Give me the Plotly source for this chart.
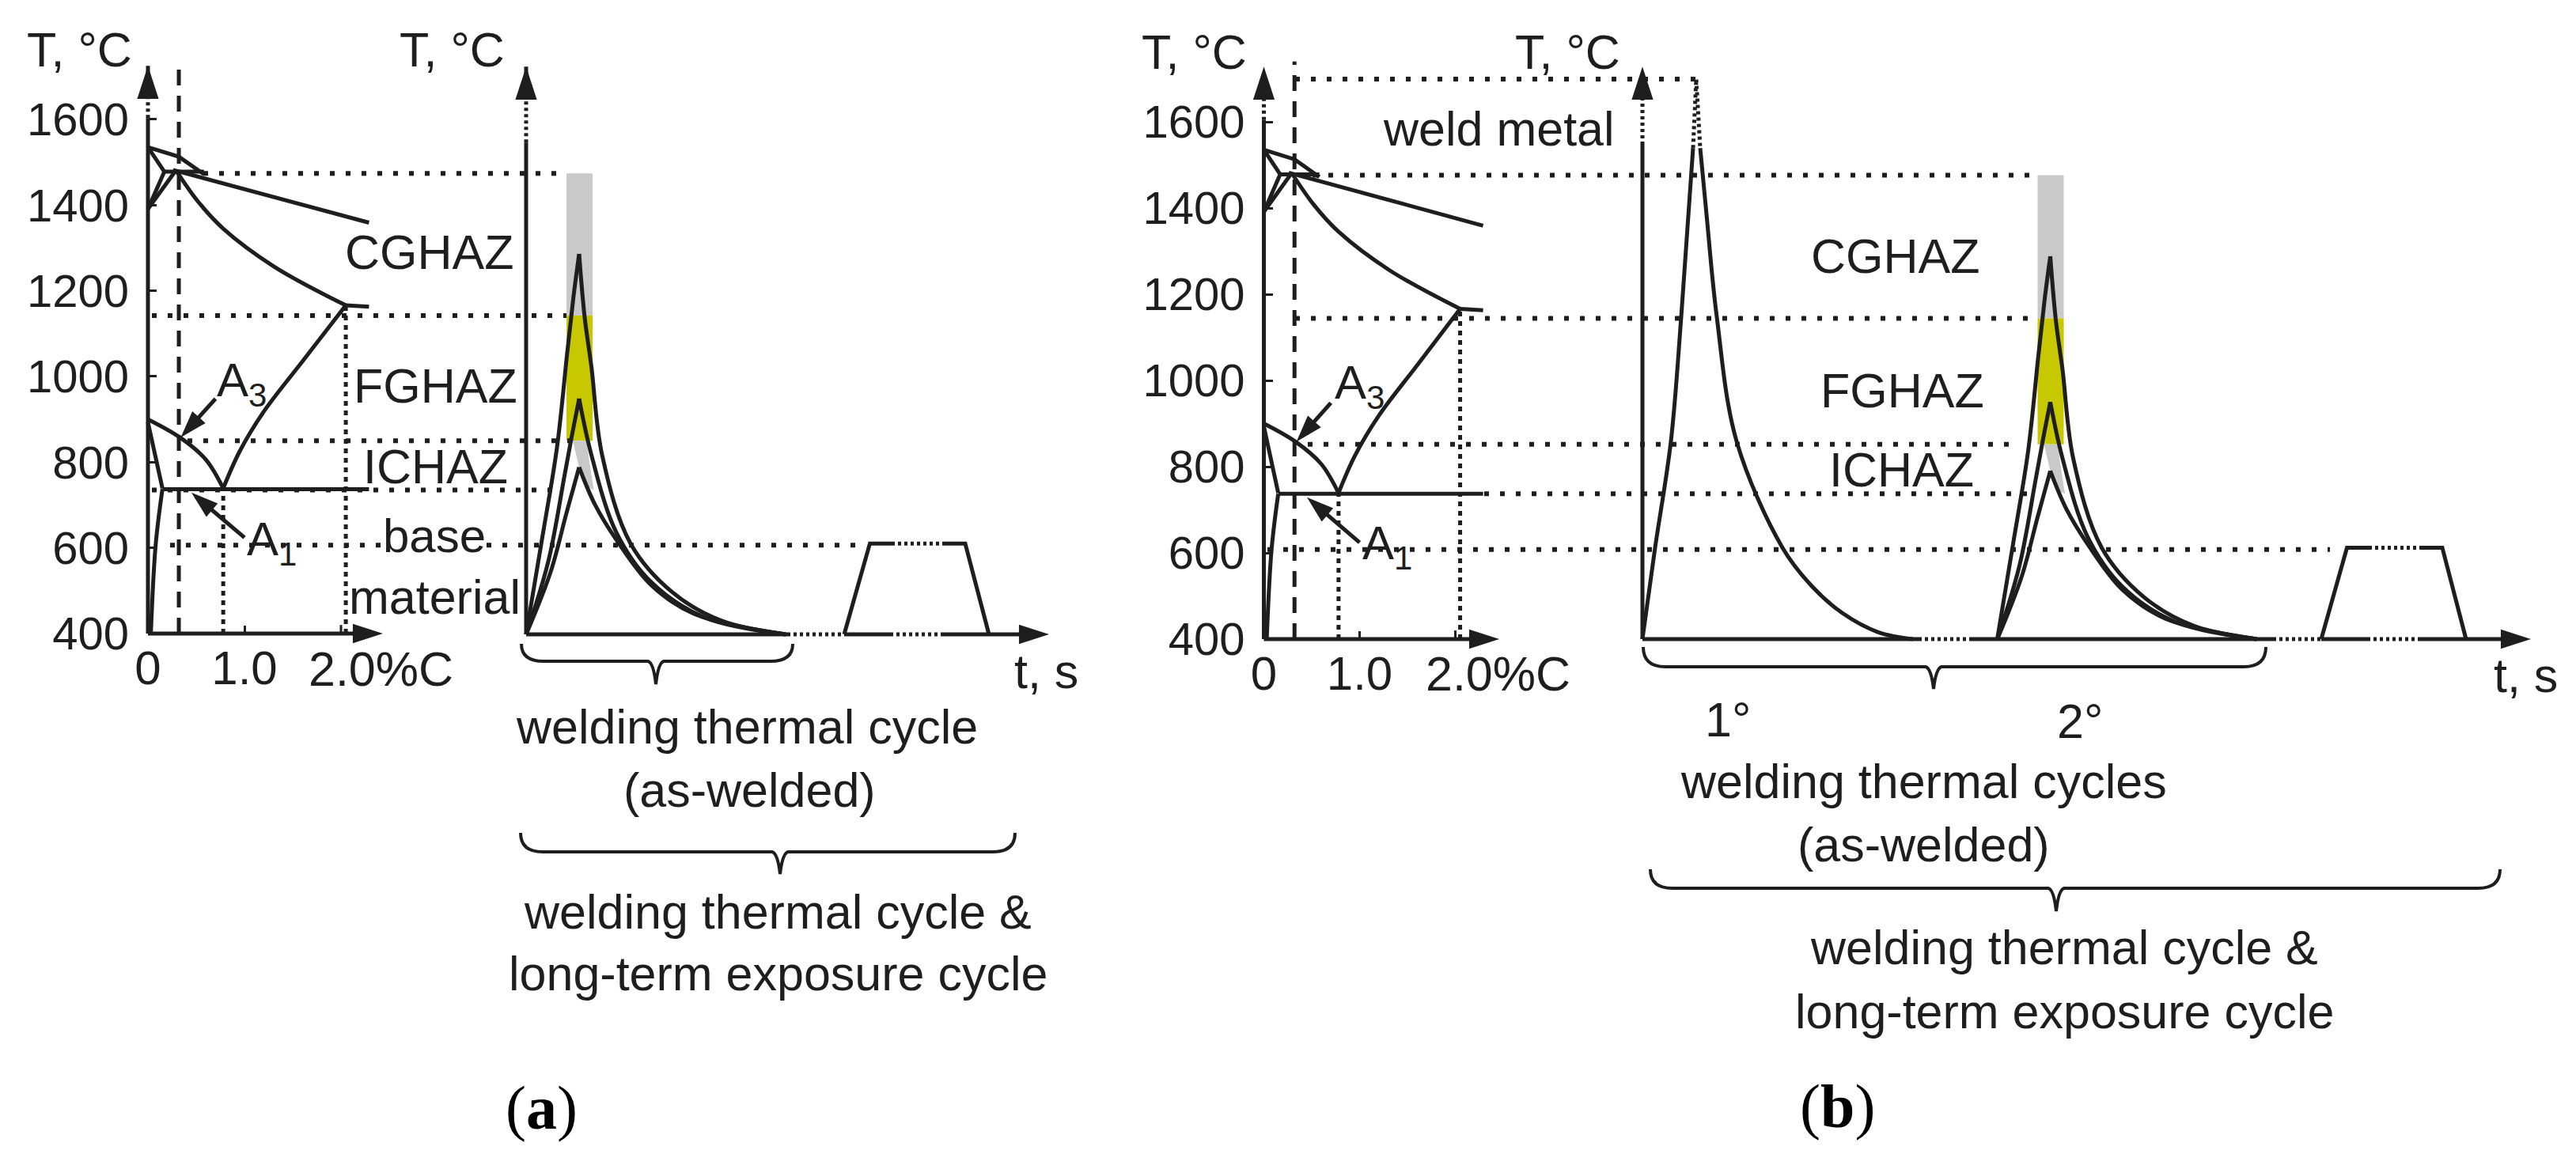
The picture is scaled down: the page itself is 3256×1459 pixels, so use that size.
import plotly.graph_objs as go

W, H = 3256, 1459
INK = '#1e1e1e'
SANS = 'Liberation Sans'
SERIF = 'Liberation Serif'

# Fe-C diagram, wt% C and deg C
LIQ_C, LIQ_T = [0, 0.32, 0.58], [1535, 1513, 1472]
LIQ2_C, LIQ2_T = [0.26, 2.29], [1482, 1359]
PERI_C, PERI_T = [0.17, 0.58], [1478, 1478]
SOL_C, SOL_T = [0.30, 0.52, 0.78, 1.31, 2.05], [1478, 1408, 1345, 1256, 1166]
DELTA1_C, DELTA1_T = [0, 0.17], [1535, 1478]
DELTA2_C, DELTA2_T = [0, 0.17], [1391, 1478]
DELTA3_C, DELTA3_T = [0, 0.28], [1391, 1478]
EUT_C, EUT_T = [2.05, 2.29], [1166, 1163]
ACM_C, ACM_T = [2.05, 1.6, 1.2, 0.95, 0.78], [1166, 1035, 918, 825, 739]
A3_C, A3_T = [0, 0.33, 0.60, 0.78], [900, 858, 806, 739]
A1_C, A1_T = [0.15, 2.29], [737, 737]
FER_C, FER_T = [0, 0.15], [893, 739]
LOW_C, LOW_T = [0.03, 0.08, 0.15], [400, 607, 737]
STEEL_C = 0.32
STEEL_TOP = 1740
EUTECTOID_C = 0.78
EUTECTIC_C = 2.05
# pointers from the A3 and A1 labels
A3_PTR_C, A3_PTR_T = [0.70, 0.34], [948, 858]
A1_PTR_C, A1_PTR_T = [1.00, 0.45], [624, 729]

T_TICKS = [400, 600, 800, 1000, 1200, 1400, 1600]
C_TICKS = [0, 1]
C_LABELS = ['0', '1.0']
C_LAST_TICK = 2

# HAZ thermal cycle family, t in seconds from start of the cycle
RISE1_t, RISE1_T = [0, 2.0, 3.9, 5.2, 6.0, 6.7], [400, 621, 836, 1058, 1190, 1288]
RISE2_t, RISE2_T = [0, 2.8, 4.85, 5.85, 6.7], [400, 570, 770, 870, 950]
RISE3_t, RISE3_T = [0, 3.05, 5.1, 6.7], [400, 543, 683, 790]
DECAY1_t = [6.7, 7.4, 8.25, 9.6, 13.2, 18.5, 24.8, 32.8]
DECAY1_T = [1288, 1140, 1025, 819, 612, 498, 431, 400]
DECAY2_t = [6.7, 8.25, 11.4, 15.8, 22.5, 32.8]
DECAY2_T = [950, 819, 638, 522, 440, 400]
DECAY3_t = [6.7, 8.7, 11.4, 15.8, 21.2, 32.8]
DECAY3_T = [790, 703, 621, 515, 448, 400]

# weld metal cycle of panel b
WELD_RISE_t = [0, 1.6, 3.6, 4.9, 6.4]
WELD_RISE_T = [400, 612, 859, 1147, 1539]
WELD_DECAY_t = [7.3, 8.1, 9.4, 11.9, 17.7, 21.5, 25.3, 29.8, 34.2]
WELD_DECAY_T = [1539, 1385, 1147, 859, 612, 521, 460, 416, 400]
WELD_PEAK_t, WELD_PEAK_T = 6.8, 1699

# zones shown on the cycle family
BAND_t = [5.1, 8.4]
BAND_CG_T = [1476, 1144]
BAND_FG_T = [1144, 852]
ICZONE_t = [5.9, 7.6, 8.55, 7.6, 6.7]
ICZONE_T = [852, 852, 737, 745, 790]

# long-term exposure trapezoid, relative to the start of its ramp
EXPO_t = [0, 3.25, 6.0]
EXPO2_t = [12.6, 15.3, 18.3]
EXPO_T = 612

# time axis pieces, (solid, dotted) runs
A_SOLID = [[0, 33], [40.2, 46], [52.6, 66.1]]
A_DOTTED = [[33, 40.2], [46, 52.6]]
A_RAMP = 40.2
B_SOLID = [[0, 34.9], [41.6, 79.7], [85.8, 91.6], [98.3, 112.3]]
B_DOTTED = [[34.9, 41.6], [79.7, 85.8], [91.6, 98.3]]
B_RAMP = 85.8
B_CYCLE2 = 44.85

# dotted guide levels, T then t start and end
A_LEVELS = [1476, 1144, 852, 737, 608]
A_LEVEL_START = [-40.8, -47.3, -42.8, -47.3, -45.0]
A_LEVEL_END = [5.1, 5.1, 5.6, 3.3, 42.4]
B_LEVELS = [1699, 1476, 1144, 852, 737, 608]
B_LEVEL_START = [-43.9, -41.7, -43.9, -42.3, -20.0, -47.4]
B_LEVEL_END = [6.8, 50.1, 50.1, 46.9, 49.7, 86.9]

# axis extents: solid top of each T axis, dotted top, arrow tip, C axis arrow tip
T_SOLID_TOP = [1603, 1548, 1604, 1547]
T_DOTTED_TOP = 1660
T_ARROW_TIP = [1725, 1725, 1728, 1728]
C_ARROW_TIP = [2.434, 2.459]


def hfrac(px):
    return px / W


def vfrac(py):
    return 1 - py / H


def line(fig, x, y, ax, width=5, dash='solid', smooth=False, head=0):
    trace = dict(x=x, y=y, mode='lines', xaxis='x' + ax, yaxis='y' + ax,
                 line=dict(color=INK, width=width, dash=dash,
                           shape='spline' if smooth else 'linear'),
                 hoverinfo='skip', showlegend=False)
    if head:
        trace['mode'] = 'lines+markers'
        trace['marker'] = dict(symbol='arrow', size=[0] * (len(x) - 1) + [head], color=INK,
                               opacity=1, angleref='previous', line=dict(width=0))
    fig.add_trace(go.Scatter(**trace))


def fill(fig, x, y, ax, color):
    fig.add_trace(go.Scatter(
        x=x, y=y, mode='lines', xaxis='x' + ax, yaxis='y' + ax, fill='toself',
        fillcolor=color, line=dict(width=0), hoverinfo='skip', showlegend=False))


def draw_phase(fig, ax):
    for cx, ty in [(LIQ_C, LIQ_T), (LIQ2_C, LIQ2_T), (PERI_C, PERI_T),
                   (DELTA1_C, DELTA1_T), (DELTA2_C, DELTA2_T), (DELTA3_C, DELTA3_T),
                   (EUT_C, EUT_T), (A1_C, A1_T), (FER_C, FER_T)]:
        line(fig, cx, ty, ax)
    for cx, ty in [(SOL_C, SOL_T), (ACM_C, ACM_T), (A3_C, A3_T), (LOW_C, LOW_T)]:
        line(fig, cx, ty, ax, smooth=True)
    line(fig, [STEEL_C, STEEL_C], [400, STEEL_TOP], ax, width=5, dash='20px,13px')
    line(fig, [EUTECTOID_C, EUTECTOID_C], [400, 737], ax, width=5, dash='6px,6px')
    line(fig, [EUTECTIC_C, EUTECTIC_C], [400, 1166], ax, width=5, dash='6px,6px')
    line(fig, A3_PTR_C, A3_PTR_T, ax, head=36)
    line(fig, A1_PTR_C, A1_PTR_T, ax, head=36)
    # tick for 2.0, its label is the 2.0%C text
    line(fig, [C_LAST_TICK, C_LAST_TICK], [400, 420], ax, width=3)


def draw_family(fig, ax, offset):
    shift = lambda ts: [t + offset for t in ts]
    fill(fig, shift([BAND_t[0], BAND_t[1], BAND_t[1], BAND_t[0]]),
         [BAND_CG_T[0], BAND_CG_T[0], BAND_CG_T[1], BAND_CG_T[1]], ax, '#c9c9c9')
    fill(fig, shift([BAND_t[0], BAND_t[1], BAND_t[1], BAND_t[0]]),
         [BAND_FG_T[0], BAND_FG_T[0], BAND_FG_T[1], BAND_FG_T[1]], ax, '#c8c800')
    fill(fig, shift(ICZONE_t), ICZONE_T, ax, '#c9c9c9')
    for ts, ty in [(RISE1_t, RISE1_T), (RISE2_t, RISE2_T), (RISE3_t, RISE3_T),
                   (DECAY1_t, DECAY1_T), (DECAY2_t, DECAY2_T), (DECAY3_t, DECAY3_T)]:
        line(fig, shift(ts), ty, ax, smooth=True)


def draw_expo(fig, ax, ramp):
    t = [ramp + v for v in EXPO_t]
    t2 = [ramp + v for v in EXPO2_t]
    line(fig, t, [400, EXPO_T, EXPO_T], ax)
    line(fig, [t[2], t2[0]], [EXPO_T, EXPO_T], ax, width=5, dash='4px,4px')
    line(fig, t2, [EXPO_T, EXPO_T, 400], ax)


def draw_t_axis(fig, ax, i):
    line(fig, [0, 0], [400, T_SOLID_TOP[i]], ax)
    line(fig, [0, 0], [T_SOLID_TOP[i], T_DOTTED_TOP], ax, dash='4px,4px')
    line(fig, [0, 0], [T_DOTTED_TOP - 5, T_ARROW_TIP[i]], ax, head=44)


fig = go.Figure()

# panel a
draw_family(fig, '2', 0)
for lev, t0, t1 in zip(A_LEVELS, A_LEVEL_START, A_LEVEL_END):
    line(fig, [t0, t1], [lev, lev], '2', width=6, dash='6px,14px')
draw_phase(fig, '')
draw_t_axis(fig, '', 0)
draw_t_axis(fig, '2', 1)
line(fig, [0, C_ARROW_TIP[0]], [400, 400], '', head=40)
for run in A_SOLID[:-1]:
    line(fig, run, [400, 400], '2')
line(fig, A_SOLID[-1], [400, 400], '2', head=40)
for run in A_DOTTED:
    line(fig, run, [400, 400], '2', dash='4px,4px')
draw_expo(fig, '2', A_RAMP)

# panel b
draw_family(fig, '4', B_CYCLE2)
for lev, t0, t1 in zip(B_LEVELS, B_LEVEL_START, B_LEVEL_END):
    line(fig, [t0, t1], [lev, lev], '4', width=6, dash='6px,14px')
draw_phase(fig, '3')
draw_t_axis(fig, '3', 2)
draw_t_axis(fig, '4', 3)
line(fig, [0, C_ARROW_TIP[1]], [400, 400], '3', head=40)
line(fig, WELD_RISE_t, WELD_RISE_T, '4', smooth=True)
line(fig, WELD_DECAY_t, WELD_DECAY_T, '4', smooth=True)
line(fig, [WELD_RISE_t[-1], WELD_PEAK_t, WELD_DECAY_t[0]],
     [WELD_RISE_T[-1], WELD_PEAK_T, WELD_DECAY_T[0]], '4', dash='4px,4px')
for run in B_SOLID[:-1]:
    line(fig, run, [400, 400], '4')
line(fig, B_SOLID[-1], [400, 400], '4', head=40)
for run in B_DOTTED:
    line(fig, run, [400, 400], '4', dash='4px,4px')
draw_expo(fig, '4', B_RAMP)


# every axis spans the whole page so the guides can cross between panels
def x_axis(zero_px, px_per_unit, base_py, **kw):
    return dict(domain=[0, 1], range=[-zero_px / px_per_unit, (W - zero_px) / px_per_unit],
                anchor='free', position=vfrac(base_py), showgrid=False, zeroline=False,
                showline=False, **kw)


def y_axis(base_py, px_per_deg, zero_px, **kw):
    return dict(domain=[0, 1], range=[400 + (base_py - H) / px_per_deg, 400 + base_py / px_per_deg],
                anchor='free', position=hfrac(zero_px), showgrid=False, zeroline=False,
                showline=False, **kw)


c_ticks = dict(tickmode='array', tickvals=C_TICKS, ticktext=C_LABELS, ticks='inside',
               ticklen=10, tickwidth=3, tickcolor=INK, ticklabelstandoff=3,
               tickfont=dict(family=SANS, size=60, color=INK))
t_ticks = dict(tickmode='array', tickvals=T_TICKS, ticktext=[str(v) for v in T_TICKS],
               ticks='inside', ticklen=10, tickwidth=3, tickcolor=INK,
               ticklabelstandoff=24, tickfont=dict(family=SANS, size=58, color=INK))

layout = go.Layout(
    width=W, height=H, margin=dict(l=0, r=0, t=0, b=0, pad=0, autoexpand=False),
    plot_bgcolor='rgba(0,0,0,0)', paper_bgcolor='white', showlegend=False,
    xaxis=x_axis(187, 122, 801, **c_ticks),
    yaxis=y_axis(801, 0.5417, 187, **t_ticks),
    xaxis2=x_axis(665, 10, 802, visible=False, overlaying='x'),
    yaxis2=y_axis(802, 0.5417, 665, visible=False, overlaying='y'),
    xaxis3=x_axis(1597.5, 121, 808, overlaying='x', **c_ticks),
    yaxis3=y_axis(808, 0.545, 1597.5, overlaying='y', **t_ticks),
    xaxis4=x_axis(2076, 10, 808, visible=False, overlaying='x'),
    yaxis4=y_axis(808, 0.545, 2076, visible=False, overlaying='y'),
)
fig.update_layout(layout)

LABELS = [
    ('T, °C', 100, 63), ('T, °C', 571, 63), ('CGHAZ', 543, 319), ('FGHAZ', 550, 488),
    ('ICHAZ', 550, 590), ('material', 549, 755), ('2.0%C', 482, 846), ('t, s', 1322, 849),
    ('welding thermal cycle', 944, 919), ('(as-welded)', 947, 999),
    ('welding thermal cycle &', 983, 1153), ('long-term exposure cycle', 983, 1231),
    ('T, °C', 1509, 66), ('T, °C', 1981, 66), ('weld metal', 1894, 163), ('CGHAZ', 2396, 324),
    ('FGHAZ', 2404, 494), ('ICHAZ', 2403, 594), ('2.0%C', 1893, 852), ('t, s', 3192, 854),
    ('1°', 2184, 910), ('2°', 2629, 912), ('welding thermal cycles', 2431, 988),
    ('(as-welded)', 2431, 1068), ('welding thermal cycle &', 2609, 1198),
    ('long-term exposure cycle', 2609, 1279),
]
annotations = []
for text, cx, cy in LABELS:
    annotations.append(dict(text=text, x=hfrac(cx), y=vfrac(cy), xref='paper', yref='paper',
                            showarrow=False, xanchor='center', yanchor='middle',
                            font=dict(family=SANS, size=61, color=INK)))
# base has a white box because the 600 guide stops behind it
annotations.append(dict(text='base', x=hfrac(549), y=vfrac(677), xref='paper', yref='paper',
                        showarrow=False, bgcolor='white', borderpad=0,
                        xanchor='center', yanchor='middle',
                        font=dict(family=SANS, size=60, color=INK)))
for text, px, py in [('A<sub>3</sub>', 272, 485), ('A<sub>1</sub>', 310, 686),
                     ('A<sub>3</sub>', 1685, 488), ('A<sub>1</sub>', 1720, 691)]:
    annotations.append(dict(text=text, x=hfrac(px), y=vfrac(py), xref='paper', yref='paper',
                            showarrow=False, xanchor='left', yanchor='middle',
                            font=dict(family=SANS, size=60, color=INK)))
for text, cx, cy in [('(<b>a</b>)', 684, 1400), ('(<b>b</b>)', 2322, 1398)]:
    annotations.append(dict(text=text, x=hfrac(cx), y=vfrac(cy), xref='paper', yref='paper',
                            showarrow=False, xanchor='center', yanchor='middle',
                            font=dict(family=SERIF, size=78, color='black')))
fig.update_layout(annotations=annotations)


def brace(x0, x1, top, mid, tip_x, tip_y):
    def p(px, py):
        return '%.5f,%.5f' % (hfrac(px), vfrac(py))
    return ('M' + p(x0, top) + ' Q' + p(x0, mid) + ' ' + p(x0 + 28, mid) +
            ' L' + p(tip_x - 10, mid) + ' Q' + p(tip_x - 3, mid + 2) + ' ' + p(tip_x, tip_y) +
            ' Q' + p(tip_x + 3, mid + 2) + ' ' + p(tip_x + 10, mid) +
            ' L' + p(x1 - 28, mid) + ' Q' + p(x1, mid) + ' ' + p(x1, top))


BRACES = [(659, 1002, 814, 836, 829, 865), (658, 1283, 1053, 1077, 986, 1105),
          (2077, 2864, 818, 843, 2444, 871), (2086, 3160, 1099, 1123, 2599, 1152)]
fig.update_layout(shapes=[dict(type='path', path=brace(*b), xref='paper', yref='paper',
                               line=dict(color=INK, width=4)) for b in BRACES])

fig.write_html("out.html", config=dict(displayModeBar=False),
               post_script="document.body.style.margin='0';")
